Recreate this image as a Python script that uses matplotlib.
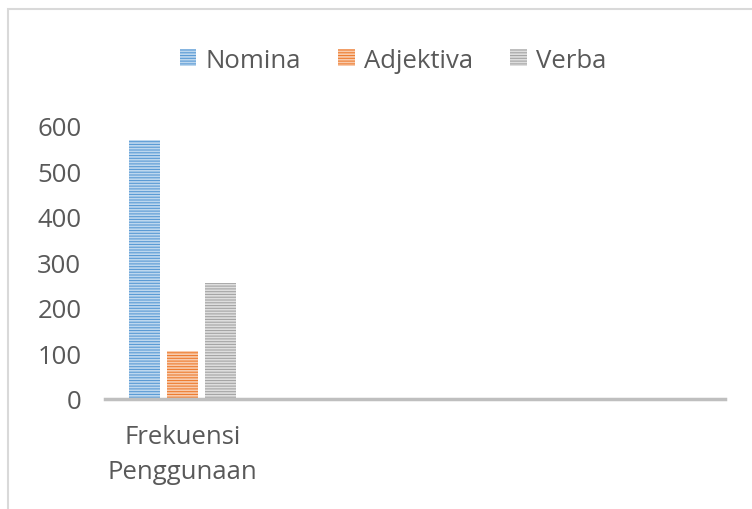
import matplotlib.pyplot as plt
import matplotlib.patches as mpatches
import numpy as np

kategori = ["Frekuensi\nPenggunaan", "", "", ""]
seri = ["Nomina", "Adjektiva", "Verba"]
nilai = {
    "Nomina": [570, 0, 0, 0],
    "Adjektiva": [105, 0, 0, 0],
    "Verba": [255, 0, 0, 0],
}
warna = {"Nomina": "#5b9bd5", "Adjektiva": "#ed7d31", "Verba": "#a5a5a5"}
warna_garis = {"Nomina": "#bdd7ee", "Adjektiva": "#f8cbad", "Verba": "#dedede"}

plt.rcParams['font.family'] = ['Open Sans', 'DejaVu Sans']
plt.rcParams['hatch.linewidth'] = 1.2
teks = "#595959"

fig = plt.figure(figsize=(7.52, 5.10), dpi=100)
ax = fig.add_axes([105/752, 1-400/510, 620/752, 273/510])

# bingkai grafik (terpotong di kanan dan bawah)
fig.patches.append(mpatches.Rectangle((8/752, -0.1), 1.2, 1-10/510+0.1,
                                      transform=fig.transFigure, fill=False,
                                      edgecolor="#d9d9d9", linewidth=1.5))

x = np.arange(len(kategori))
lebar = 0.2
geser = [-0.245, 0.0, 0.245]
for i, s in enumerate(seri):
    ax.bar(x + geser[i], nilai[s], width=lebar, color=warna[s],
           edgecolor=warna_garis[s], linewidth=0, hatch="------", label=s)

ax.set_xlim(-0.5, 3.5)
ax.set_ylim(0, 600)
ax.set_yticks(range(0, 601, 100))
ax.set_xticks(x)
ax.set_xticklabels(kategori, linespacing=1.55)
ax.tick_params(axis="both", length=0, labelsize=18.5, labelcolor=teks)
ax.tick_params(axis="y", pad=17)
ax.tick_params(axis="x", pad=18)
for sp in ["top", "right", "left"]:
    ax.spines[sp].set_visible(False)
ax.spines["bottom"].set_color("#bfbfbf")
ax.spines["bottom"].set_linewidth(2.5)

leg = fig.legend(loc="center", bbox_to_anchor=(393/752, 1-61/510), ncol=3,
                 frameon=False, fontsize=18.5, handlelength=0.65, handleheight=0.65,
                 handletextpad=0.35, columnspacing=1.45)
for t in leg.get_texts():
    t.set_color(teks)

fig.savefig("out.png", dpi=100)
